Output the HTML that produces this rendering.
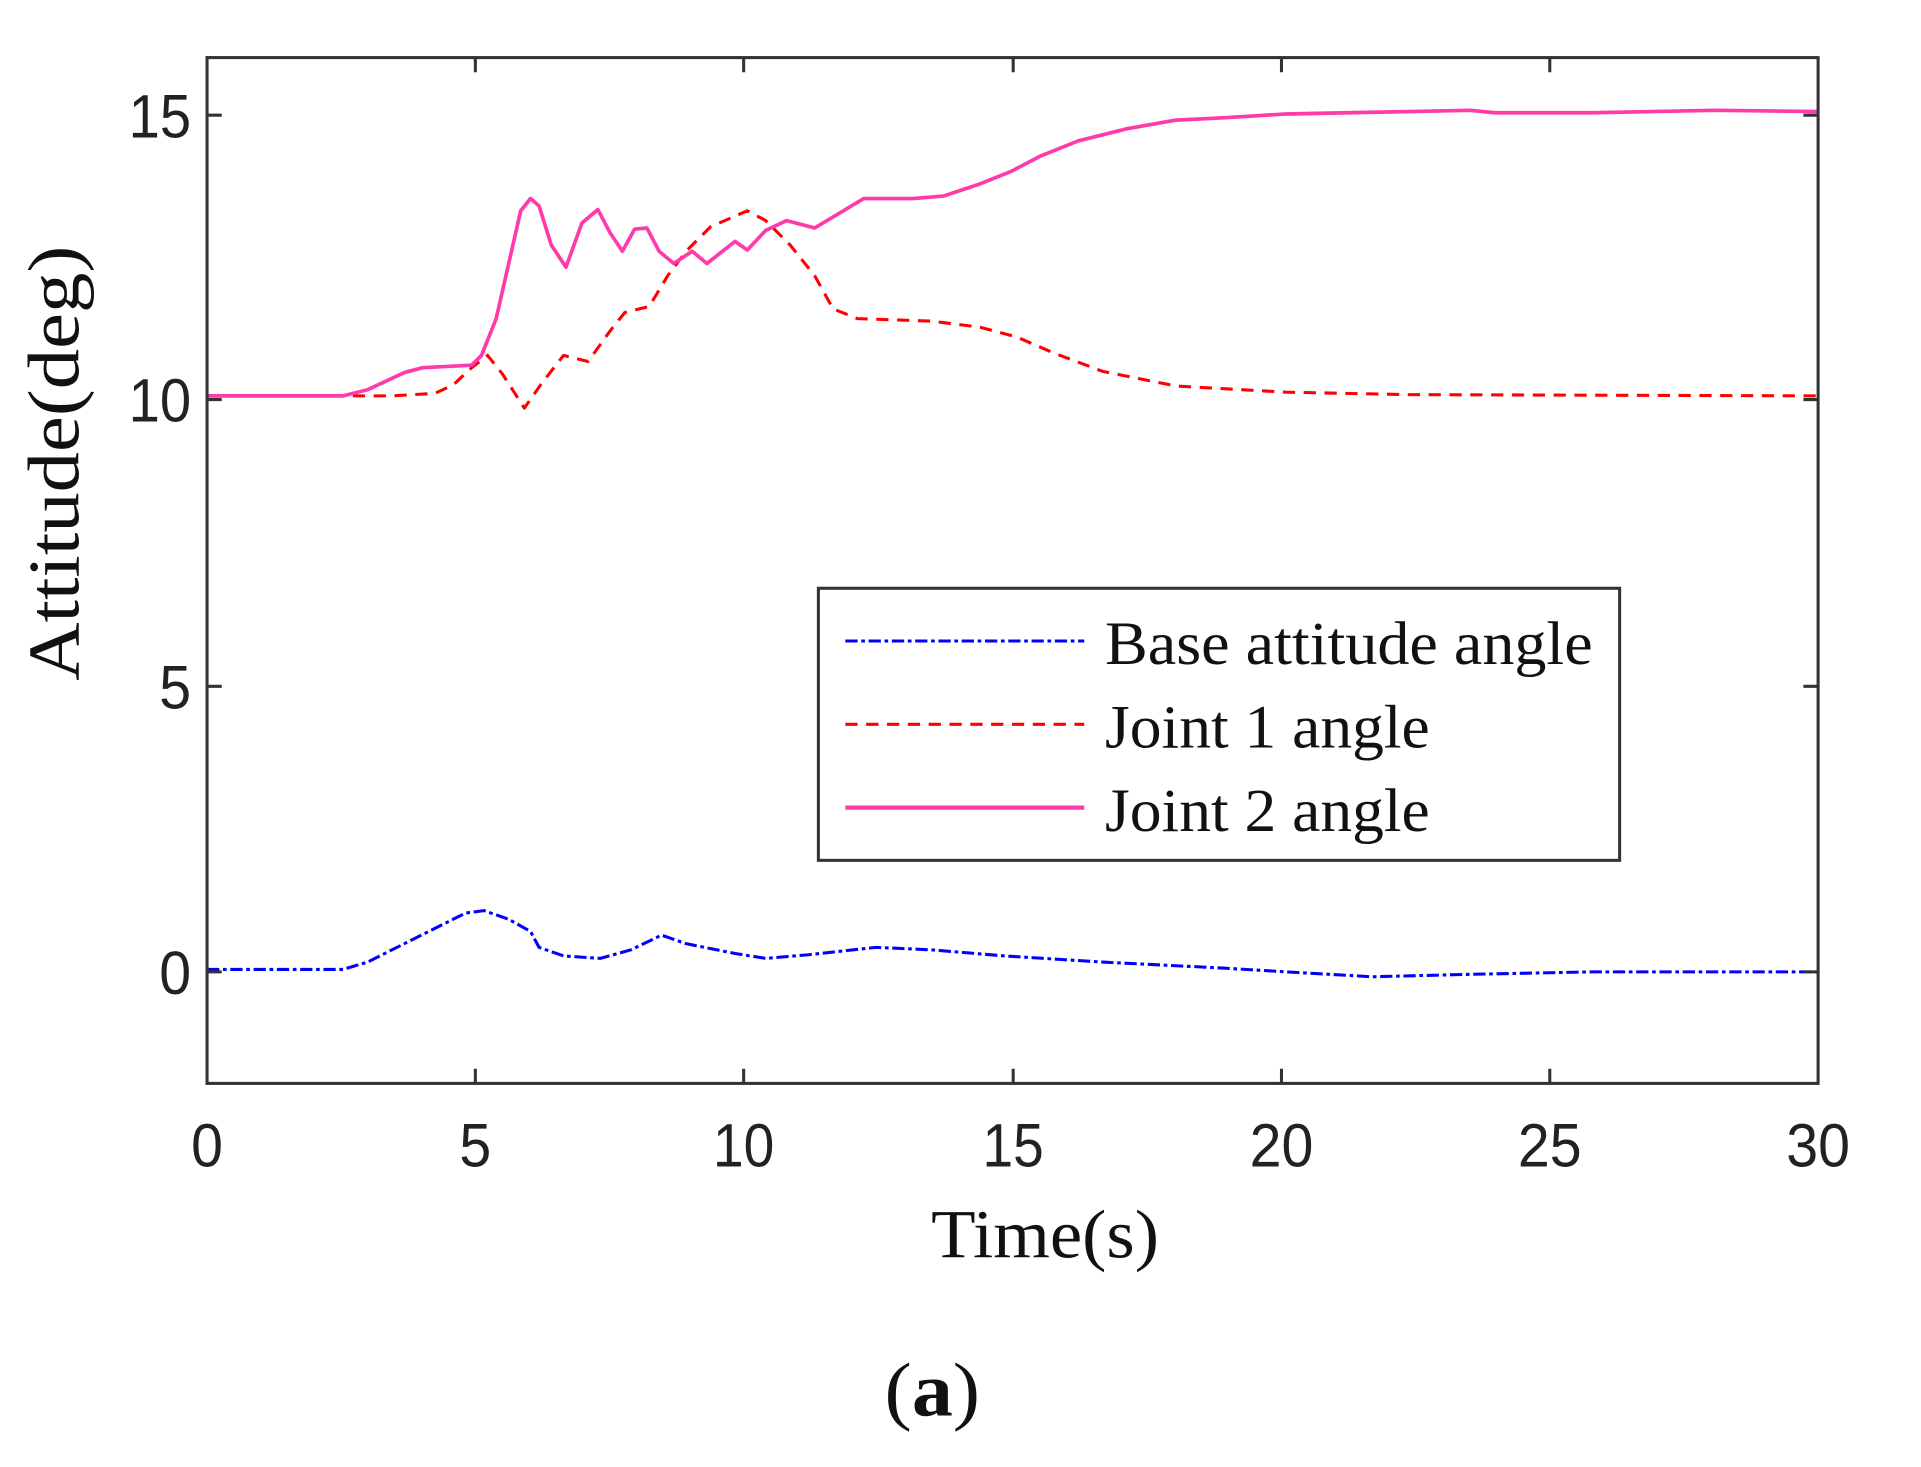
<!DOCTYPE html>
<html><head><meta charset="utf-8"><style>html,body{margin:0;padding:0;background:#fff}svg{display:block}</style></head>
<body>
<svg width="1921" height="1467" viewBox="0 0 1568 1197" preserveAspectRatio="none" xmlns="http://www.w3.org/2000/svg">
<rect width="1568" height="1197" fill="#fff"/>
<g fill="none" stroke-linejoin="round">
<polyline stroke="#0000ff" stroke-width="2.5" stroke-dasharray="10,3,3,3" points="169,791 280,791 300,785 330,770 360,755 380,745 395,743 415,750 433,760 440,773 460,780 490,782 515,775 540,763 560,770 600,778 625,782 660,779 715,773 760,775 820,780 900,785 1000,790 1050,793 1120,797 1200,795 1300,793 1484,793"/>
<polyline stroke="#ff0000" stroke-width="2.5" stroke-dasharray="10,7" points="169,323 320,323 355,321 370,314 385,300 398,290 410,305 428,333 442,313 460,290 480,295 498,270 510,255 530,250 545,225 560,205 580,185 610,172 625,180 645,200 665,225 680,252 700,260 760,262 800,267 830,275 860,288 900,303 960,315 1050,320 1150,322 1484,323"/>
<polyline stroke="#ff3aab" stroke-width="3" points="169,323 280,323 300,318 330,304 345,300 385,298 393,290 405,260 425,172 433,162 440,168 450,200 462,218 475,182 488,171 498,190 508,205 518,187 528,186 538,205 550,215 565,205 577,215 600,197 610,204 625,188 642,180 665,186 680,177 705,162 720,162 745,162 770,160 800,150 825,140 850,127 880,115 920,105 960,98 1000,96 1050,93 1100,92 1150,91 1200,90 1220,92 1300,92 1400,90 1484,91"/>
</g>
<g stroke="#333" stroke-width="2.5">
<rect x="169" y="47" width="1315" height="837" fill="none"/>
<path d="M388,884v-12M607,884v-12M827,884v-12M1046,884v-12M1265,884v-12M388,47v12M607,47v12M827,47v12M1046,47v12M1265,47v12M169,94h12M169,326h12M169,560h12M169,793h12M1484,94h-12M1484,326h-12M1484,560h-12M1484,793h-12"/>
</g>
<g font-family="Liberation Sans, sans-serif" font-size="50" fill="#222">
<g text-anchor="middle">
<text x="169" y="952" textLength="26" lengthAdjust="spacingAndGlyphs">0</text>
<text x="388" y="952" textLength="26" lengthAdjust="spacingAndGlyphs">5</text>
<text x="607" y="952" textLength="50" lengthAdjust="spacingAndGlyphs">10</text>
<text x="827" y="952" textLength="50" lengthAdjust="spacingAndGlyphs">15</text>
<text x="1046" y="952" textLength="52" lengthAdjust="spacingAndGlyphs">20</text>
<text x="1265" y="952" textLength="52" lengthAdjust="spacingAndGlyphs">25</text>
<text x="1484" y="952" textLength="52" lengthAdjust="spacingAndGlyphs">30</text>
</g>
<g text-anchor="end">
<text x="156" y="112" textLength="51" lengthAdjust="spacingAndGlyphs">15</text>
<text x="156" y="344" textLength="51" lengthAdjust="spacingAndGlyphs">10</text>
<text x="156" y="578" textLength="26" lengthAdjust="spacingAndGlyphs">5</text>
<text x="156" y="811" textLength="26" lengthAdjust="spacingAndGlyphs">0</text>
</g>
</g>
<g font-family="Liberation Serif, serif" fill="#111">
<text transform="translate(64,378) rotate(-90)" text-anchor="middle" font-size="60" textLength="355" lengthAdjust="spacingAndGlyphs">Attitude(deg)</text>
<text x="853" y="1026" text-anchor="middle" font-size="56" textLength="186" lengthAdjust="spacingAndGlyphs">Time(s)</text>
<text x="761" y="1155" text-anchor="middle" font-size="62" textLength="78" lengthAdjust="spacingAndGlyphs">(<tspan font-weight="bold">a</tspan>)</text>
</g>
<rect x="668" y="480" width="654" height="222" fill="#fff" stroke="#333" stroke-width="2.5"/>
<line x1="690" y1="523" x2="885" y2="523" stroke="#0000ff" stroke-width="2.5" stroke-dasharray="10,3,3,3"/>
<line x1="690" y1="591" x2="885" y2="591" stroke="#ff0000" stroke-width="2.5" stroke-dasharray="10,7"/>
<line x1="690" y1="659" x2="885" y2="659" stroke="#ff3aab" stroke-width="3.5"/>
<g font-family="Liberation Serif, serif" font-size="50" fill="#111">
<text x="902" y="542" textLength="398" lengthAdjust="spacingAndGlyphs">Base attitude angle</text>
<text x="902" y="610" textLength="265" lengthAdjust="spacingAndGlyphs">Joint 1 angle</text>
<text x="902" y="678" textLength="265" lengthAdjust="spacingAndGlyphs">Joint 2 angle</text>
</g>
</svg>
</body></html>
